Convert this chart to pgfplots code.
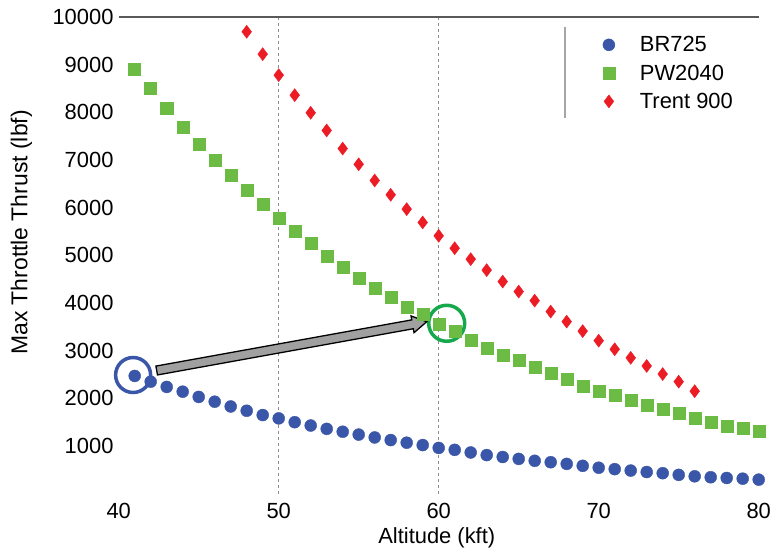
\documentclass[border=0pt]{standalone}
\usepackage{pgfplots}
\pgfplotsset{compat=1.18}
\usepackage{pgfplotstable}
\usepackage{fontspec}
\setmainfont{Liberation Sans}
\definecolor{cblue}{HTML}{3A56A8}
\definecolor{cgreen}{HTML}{6CBB45}
\definecolor{cred}{HTML}{EC1C24}
\definecolor{ringgreen}{HTML}{16A84C}
\definecolor{ringblue}{HTML}{3A56A8}
\definecolor{arrowgray}{HTML}{A0A0A0}

\pgfplotstableread{
x y
41 2470
42 2350
43 2240
44 2140
45 2030
46 1930
47 1830
48 1740
49 1650
50 1580
51 1500
52 1430
53 1360
54 1300
55 1240
56 1180
57 1125
58 1070
59 1020
60 960
61 920
62 865
63 810
64 770
65 730
66 690
67 660
68 625
69 585
70 545
71 515
72 485
73 455
74 430
75 395
76 365
77 345
78 330
79 315
80 295
}\brdata

\pgfplotstableread{
x y
41 8900
42 8500
43 8080
44 7690
45 7340
46 7000
47 6690
48 6360
49 6080
50 5780
51 5510
52 5250
53 4990
54 4750
55 4520
56 4310
57 4120
58 3910
59 3760
60 3560
61 3400
62 3220
63 3060
64 2910
65 2800
66 2650
67 2530
68 2400
69 2260
70 2150
71 2070
72 1970
73 1860
74 1780
75 1690
76 1590
77 1510
78 1420
79 1370
80 1320
}\pwdata

\pgfplotstableread{
x y
48 9690
49 9220
50 8780
51 8360
52 7990
53 7620
54 7240
55 6910
56 6570
57 6270
58 5970
59 5690
60 5410
61 5150
62 4920
63 4690
64 4450
65 4240
66 4050
67 3820
68 3610
69 3410
70 3210
71 3030
72 2850
73 2680
74 2510
75 2350
76 2150
}\trentdata

\begin{document}
\begin{tikzpicture}
\begin{axis}[
  at={(0,0)}, anchor=south west,
  scale only axis,
  width=640bp, height=476.7bp,
  xmin=40, xmax=80, ymin=0, ymax=10000,
  xtick={40,50,60,70,80},
  ytick={1000,2000,3000,4000,5000,6000,7000,8000,9000,10000},
  scaled y ticks=false,
  axis line style={draw=none},
  major tick length=0pt,
  /pgf/number format/assume math mode=true,
  /pgf/number format/1000 sep={},
  tick label style={font=\fontsize{22}{26}\selectfont},
  yticklabel style={anchor=east, inner sep=0pt, xshift=-5bp},
  xticklabel style={anchor=north, inner sep=0pt, yshift=-9bp},
  xlabel={Altitude (kft)},
  ylabel={Max Throttle Thrust (lbf)},
  label style={font=\fontsize{22}{26}\selectfont},
  xlabel style={at={(rel axis cs:0.497,-0.093)}, anchor=center},
  ylabel style={at={(rel axis cs:-0.152,0.548)}, anchor=center, font=\fontsize{23}{27}\selectfont},
  clip=false,
  legend cell align=left,
  legend image code/.code={\path[draw=none,fill=none] (-7bp,-7bp) rectangle (7bp,7bp); \draw[#1] plot coordinates {(0bp,0bp)};},
  legend style={draw=none, fill=none, at={(rel axis cs:0.75,0.968)}, anchor=north west,
    font=\fontsize{22}{26}\selectfont, column sep=22bp, row sep=7.5bp},
]
\draw[black!45, line width=1.3bp, dash pattern=on 3bp off 3bp] (axis cs:50,0) -- (axis cs:50,10000);
\draw[black!45, line width=1.3bp, dash pattern=on 3bp off 3bp] (axis cs:60,0) -- (axis cs:60,10000);
\draw[black!65, line width=2bp] (rel axis cs:0,1) -- (rel axis cs:1,1);
\draw[black!35, line width=1.5bp] (axis cs:67.9,9790) -- (axis cs:67.9,7881);

\addplot[only marks, mark=*, mark size=6bp, mark options={draw=cblue, fill=cblue}] table[x=x,y=y] {\brdata};
\addlegendentry{BR725}
\addplot[only marks, mark=square*, mark size=6bp, mark options={draw=cgreen, fill=cgreen}] table[x=x,y=y] {\pwdata};
\addlegendentry{PW2040}
\addplot[only marks, mark=diamond*, mark size=6.5bp, mark options={draw=cred, fill=cred}] table[x=x,y=y] {\trentdata};
\addlegendentry{Trent 900}

\draw[ringblue, line width=3.5bp] (axis cs:40.9,2490) circle[radius=17.5bp];
\draw[ringgreen, line width=3.5bp] (axis cs:60.5,3575) circle[radius=18bp];
\begin{scope}[shift={(axis cs:42.375,2584)}, rotate=10.24]
\draw[black, line width=1.3bp, fill=arrowgray, line join=miter]
  (0bp,-4.5bp) -- (260bp,-4.5bp) -- (260bp,-8.5bp) -- (274.4bp,0bp) -- (260bp,8.5bp) -- (260bp,4.5bp) -- (0bp,4.5bp) -- cycle;
\end{scope}
\end{axis}
\pgfresetboundingbox
\path (-118.7bp,-58.3bp) rectangle (655.3bp,493.7bp);
\end{tikzpicture}
\end{document}
